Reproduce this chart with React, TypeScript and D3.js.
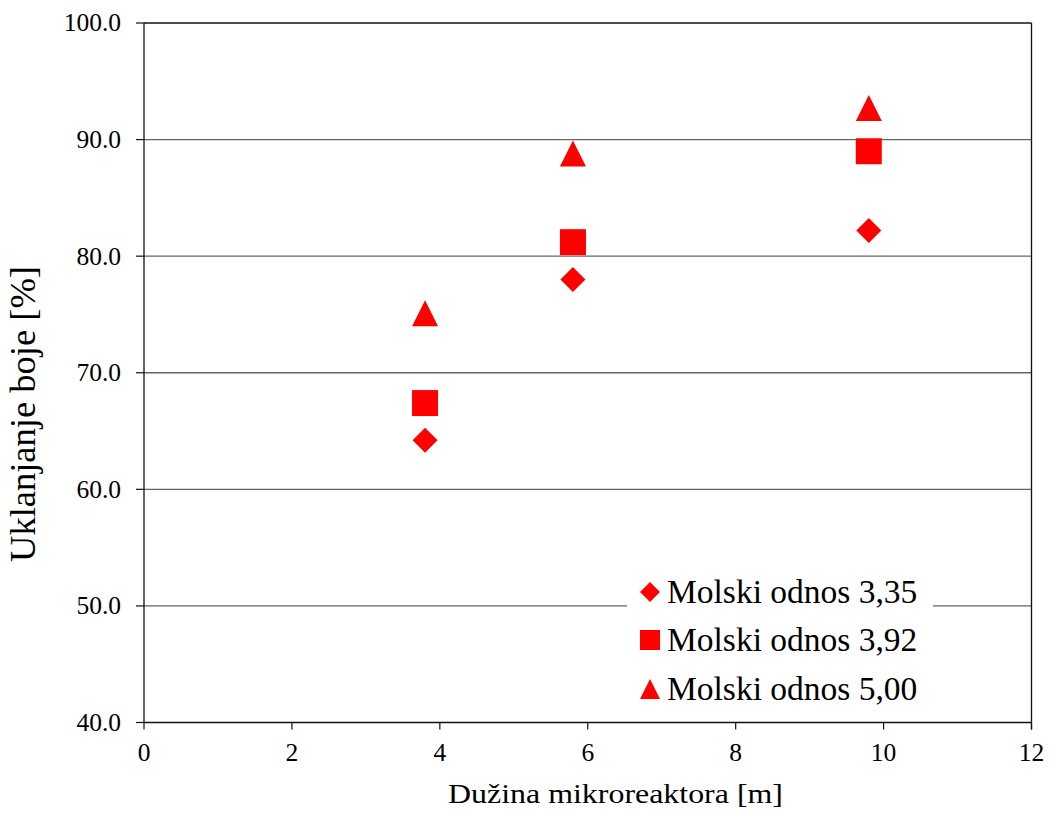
import React from "react";
import * as d3 from "d3";

const xValues = [3.8, 5.8, 9.8];
const series335 = [64.2, 78.0, 82.2];
const series392 = [67.4, 81.2, 89.0];
const series500 = [75.1, 88.8, 92.7];
const seriesNames = ["Molski odnos 3,35", "Molski odnos 3,92", "Molski odnos 5,00"];
const xTicks = [0, 2, 4, 6, 8, 10, 12];
const yTicks = [40, 50, 60, 70, 80, 90, 100];

const W = 1049, H = 814;
const M = { left: 144, top: 23, right: 1031.5, bottom: 722.5 };
const FONT = "Liberation Serif, Times New Roman, DejaVu Serif, serif";

// custom symbol types where size = (bounding box width)^2
const diamond = {
  draw(ctx: any, size: number) {
    const h = Math.sqrt(size) / 2;
    ctx.moveTo(0, -h); ctx.lineTo(h, 0); ctx.lineTo(0, h); ctx.lineTo(-h, 0); ctx.closePath();
  },
};
const square = {
  draw(ctx: any, size: number) {
    const h = Math.sqrt(size) / 2;
    ctx.rect(-h, -h, 2 * h, 2 * h);
  },
};
const triangle = {
  draw(ctx: any, size: number) {
    const h = Math.sqrt(size) / 2;
    ctx.moveTo(0, -h); ctx.lineTo(h, h); ctx.lineTo(-h, h); ctx.closePath();
  },
};

export default function App() {
  const x = d3.scaleLinear().domain([0, 12]).range([M.left, M.right]);
  const y = d3.scaleLinear().domain([40, 100]).range([M.bottom, M.top]);

  const shapes = [diamond, square, triangle];
  const allSeries = [series335, series392, series500];
  const sizes = [25 * 25, 26 * 26, 26 * 26];
  const legendSizes = [20 * 20, 20 * 20, 20 * 20];
  const legendY = [592, 640, 689];
  const txt = { fontFamily: FONT } as React.CSSProperties;

  return (
    <svg width={W} height={H} style={{ position: "absolute", left: 0, top: 0, background: "#fff" }}>
      <rect x={0} y={0} width={W} height={H} fill="#fff" />
      {yTicks.map((t) => (
        <line key={"g" + t} x1={M.left} x2={M.right} y1={y(t)} y2={y(t)} stroke={t === 40 || t === 100 ? "#111" : "#666"} strokeWidth={1.3} />
      ))}
      <line x1={M.left} x2={M.left} y1={M.top} y2={M.bottom} stroke="#111" strokeWidth={1.3} />
      <line x1={M.right} x2={M.right} y1={M.top} y2={M.bottom + 7} stroke="#111" strokeWidth={1.3} />
      {yTicks.map((t) => (
        <g key={"yt" + t}>
          <line x1={M.left - 8} x2={M.left} y1={y(t)} y2={y(t)} stroke="#111" strokeWidth={1.2} />
          <text x={121} y={y(t)} dy="0.33em" textAnchor="end" style={txt} fontSize={25.5} fill="#000">
            {t.toFixed(1)}
          </text>
        </g>
      ))}
      {xTicks.map((t) => (
        <g key={"xt" + t}>
          <line x1={x(t)} x2={x(t)} y1={M.bottom} y2={M.bottom + 7} stroke="#111" strokeWidth={1.2} />
          <text x={x(t)} y={761} textAnchor="middle" style={txt} fontSize={25.5} fill="#000">
            {t}
          </text>
        </g>
      ))}
      <text transform="translate(615.5, 803) scale(1.14, 1)" textAnchor="middle" style={txt} fontSize={28} fill="#000">
        Dužina mikroreaktora [m]
      </text>
      <text transform="translate(35, 414) rotate(-90)" textAnchor="middle" style={txt} fontSize={36.5} fill="#000">
        Uklanjanje boje [%]
      </text>
      {allSeries.map((s, si) =>
        s.map((v, i) => (
          <path
            key={`p${si}-${i}`}
            d={d3.symbol().type(shapes[si] as any).size(sizes[si])() || ""}
            transform={`translate(${x(xValues[i])}, ${y(v)})`}
            fill="#ff0000"
          />
        ))
      )}
      <rect x={627} y={565} width={306} height={150} fill="#fff" />
      {seriesNames.map((n, i) => (
        <g key={"l" + i} transform={`translate(650, ${legendY[i]})`}>
          <path d={d3.symbol().type(shapes[i] as any).size(legendSizes[i])() || ""} fill="#ff0000" />
          <text x={17} y={0} dy="0.34em" style={txt} fontSize={33.5} fill="#000">
            {n}
          </text>
        </g>
      ))}
    </svg>
  );
}
